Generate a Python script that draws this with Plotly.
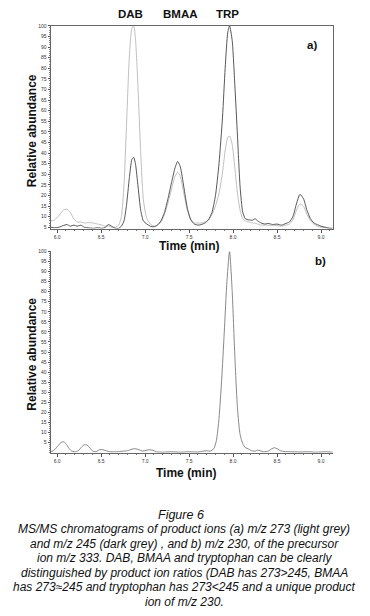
import plotly.graph_objects as go

W, H = 370, 616

# ---------------- data ----------------
time_a = [5.93, 5.97, 6.02, 6.07, 6.11, 6.15, 6.19, 6.23, 6.27, 6.31, 6.36, 6.41, 6.46, 6.51, 6.55,
          6.58, 6.62, 6.66, 6.70, 6.73, 6.76, 6.79, 6.82, 6.85, 6.87, 6.89, 6.92, 6.95, 6.98, 7.02,
          7.06, 7.10, 7.14, 7.18, 7.22, 7.26, 7.30, 7.34, 7.37, 7.40, 7.44, 7.48, 7.52, 7.56, 7.60,
          7.64, 7.68, 7.72, 7.76, 7.80, 7.84, 7.88, 7.91, 7.94, 7.96, 7.99, 8.02, 8.05, 8.08, 8.11,
          8.14, 8.18, 8.22, 8.25, 8.28, 8.32, 8.36, 8.40, 8.45, 8.50, 8.55, 8.60, 8.64, 8.68, 8.72,
          8.76, 8.80, 8.84, 8.88, 8.92, 8.96, 9.00, 9.05, 9.10, 9.13]

# m/z 245 (dark grey)
mz245 = [5.0, 4.8, 5.0, 5.8, 6.3, 5.5, 6.0, 5.5, 6.0, 5.0, 4.7, 4.5, 4.8, 4.5, 5.0,
         6.3, 5.5, 4.5, 4.5, 5.5, 8.0, 16, 28, 37, 38, 35, 24, 13, 8.0, 6.5,
         5.5, 5.2, 6.0, 8.0, 12, 18.5, 26, 33, 36, 33.5, 24, 14, 8.5, 6.5, 6.0,
         6.3, 7.0, 8.5, 12, 20, 35, 57, 80, 97, 100, 93, 72, 48, 24, 12,
         9.0, 8.5, 8.3, 9.0, 8.0, 7.0, 6.5, 6.8, 6.3, 6.5, 6.0, 6.8, 7.5, 10, 16,
         20.5, 18.5, 13, 9.0, 7.0, 6.2, 5.5, 5.0, 4.5, 4.5]

# m/z 273 (light grey)
mz273 = [8.0, 8.5, 10.5, 13, 13.5, 12, 9.0, 7.5, 7.5, 7.0, 7.2, 7.0, 6.5, 6.0, 5.5,
         5.5, 5.0, 5.0, 6.0, 10, 25, 55, 85, 99, 100, 94, 70, 40, 18, 9.0,
         6.5, 5.5, 6.0, 7.5, 11, 16.5, 23, 29, 31, 29, 21, 13, 8.5, 7.0, 7.0,
         7.0, 7.5, 8.5, 11, 15, 21, 31, 41, 47.5, 48, 44, 33, 21, 13, 9.0,
         8.0, 7.5, 7.0, 7.0, 6.5, 6.0, 6.0, 6.0, 5.8, 5.8, 5.5, 6.0, 6.5, 8.5, 13,
         16, 15, 11, 8.0, 6.5, 5.5, 5.0, 4.8, 4.5, 4.5]

time_b = [5.93, 5.97, 6.01, 6.04, 6.07, 6.10, 6.13, 6.16, 6.20, 6.24, 6.28, 6.31, 6.34, 6.37, 6.40,
          6.44, 6.48, 6.52, 6.56, 6.60, 6.65, 6.70, 6.75, 6.80, 6.85, 6.89, 6.93, 6.97, 7.01, 7.05,
          7.09, 7.13, 7.20, 7.30, 7.40, 7.50, 7.60, 7.66, 7.70, 7.74, 7.78, 7.81, 7.84, 7.87, 7.90,
          7.93, 7.96, 7.99, 8.02, 8.05, 8.08, 8.11, 8.14, 8.17, 8.21, 8.25, 8.28, 8.31, 8.35, 8.40,
          8.44, 8.47, 8.50, 8.54, 8.58, 8.65, 8.75, 8.85, 8.95, 9.05, 9.13]

# m/z 230
mz230 = [0.5, 1.5, 3.5, 5.0, 5.5, 4.5, 2.5, 1.0, 0.5, 1.0, 3.0, 4.0, 3.8, 2.5, 1.0,
         0.5, 1.5, 1.5, 1.0, 0.5, 0.5, 0.6, 0.8, 1.0, 1.8, 2.0, 1.5, 0.8, 1.2, 1.5,
         1.2, 0.5, 0.3, 0.5, 0.3, 0.5, 0.4, 0.8, 1.0, 0.8, 2.0, 6.0, 17, 36, 60,
         85, 100, 80, 48, 22, 9.0, 4.5, 2.5, 2.0, 1.0, 0.8, 1.3, 1.0, 0.5, 0.8,
         2.0, 2.5, 2.0, 1.0, 0.6, 0.5, 0.4, 0.5, 0.3, 0.5, 0.3]

y_tickvals = list(range(5, 101, 5))
x_tickvals = [6.0, 6.5, 7.0, 7.5, 8.0, 8.5, 9.0]
peak_labels = ["DAB", "BMAA", "TRP"]
caption_title = "Figure 6"
caption_lines = [
    "MS/MS chromatograms of product ions (a) m/z 273 (light grey)",
    "and m/z 245 (dark grey) , and b) m/z 230, of the precursor",
    "ion m/z 333. DAB, BMAA and tryptophan can be clearly",
    "distinguished by product ion ratios (DAB has 273&gt;245, BMAA",
    "has 273\u2248245 and tryptophan has 273&lt;245 and a unique product",
    "ion of m/z 230.",
]

# ---------------- figure ----------------
FONT = "Liberation Sans, Arial, sans-serif"

def px_x(p):
    return p / W

def px_y(p):
    return 1 - p / H

fig = go.Figure()
fig.add_trace(go.Scatter(x=time_a, y=mz273, mode="lines", line=dict(color="#b8b8b8", width=0.9, shape="spline", smoothing=0.6),
                         xaxis="x", yaxis="y", name="m/z 273"))
fig.add_trace(go.Scatter(x=time_a, y=mz245, mode="lines", line=dict(color="#444444", width=0.9, shape="spline", smoothing=0.6),
                         xaxis="x", yaxis="y", name="m/z 245"))
fig.add_trace(go.Scatter(x=time_b, y=mz230, mode="lines", line=dict(color="#7a7a7a", width=0.9, shape="spline", smoothing=0.6),
                         xaxis="x2", yaxis="y2", name="m/z 230"))

tickfont = dict(family=FONT, size=5, color="#333")
xrange_ = [5.93, 9.136]
xdom = [px_x(51), px_x(333)]

common_x = dict(range=xrange_, domain=xdom, tickmode="array", tickvals=x_tickvals, tickformat=".1f",
                ticks="outside", ticklen=3, tickwidth=1, tickcolor="#555", showgrid=False, zeroline=False,
                showline=True, linecolor="#666", linewidth=1, tickfont=tickfont,
                minor=dict(dtick=0.1, ticks="outside", ticklen=1.5, tickcolor="#777"))
common_y = dict(tickmode="array", tickvals=y_tickvals, ticks="outside", ticklen=2.5, tickwidth=1,
                tickcolor="#555", showgrid=False, zeroline=False, showline=True, linecolor="#666",
                linewidth=1, tickfont=tickfont,
                minor=dict(dtick=1, ticks="outside", ticklen=1.5, tickcolor="#888"))

fig.update_layout(
    width=W, height=H, margin=dict(l=0, r=0, t=0, b=0),
    paper_bgcolor="white", plot_bgcolor="white", showlegend=False,
    xaxis=dict(**common_x, anchor="y", mirror=True),
    yaxis=dict(**common_y, range=[4.4, 100], domain=[px_y(227), px_y(23)], anchor="x", mirror=True),
    xaxis2=dict(**common_x, anchor="y2"),
    yaxis2=dict(**common_y, range=[0, 100], domain=[px_y(452.7), px_y(250)], anchor="x2"),
)

ann = []
def add_text(text, x, y, size, bold=False, italic=False, color="#111", angle=0):
    t = text
    if bold:
        t = "<b>" + t + "</b>"
    if italic:
        t = "<i>" + t + "</i>"
    ann.append(dict(text=t, x=px_x(x), y=px_y(y), xref="paper", yref="paper", showarrow=False,
                    xanchor="center", yanchor="middle", textangle=angle,
                    font=dict(family=FONT, size=size, color=color)))

for lab, cx in zip(peak_labels, [130.5, 180.5, 227.5]):
    add_text(lab, cx, 11, 11.5, bold=True)
add_text("a)", 312, 42, 11.5, bold=True)
add_text("b)", 320, 260, 11.5, bold=True)
add_text("Time (min)", 189, 245, 12, bold=True)
add_text("Time (min)", 186, 473, 12, bold=True)
add_text("Relative abundance", 32, 129, 12, bold=True, angle=-90)
add_text("Relative abundance", 32, 354, 12, bold=True, angle=-90)
add_text(caption_title, 181, 515, 12.5, italic=True)
for i, line in enumerate(caption_lines):
    add_text(line, 184, 529.5 + i * 14.6, 12, italic=True)

fig.update_layout(annotations=ann)
fig.write_html("out.html", config={"displayModeBar": False, "staticPlot": True},
               post_script="document.body.style.margin='0px';")
